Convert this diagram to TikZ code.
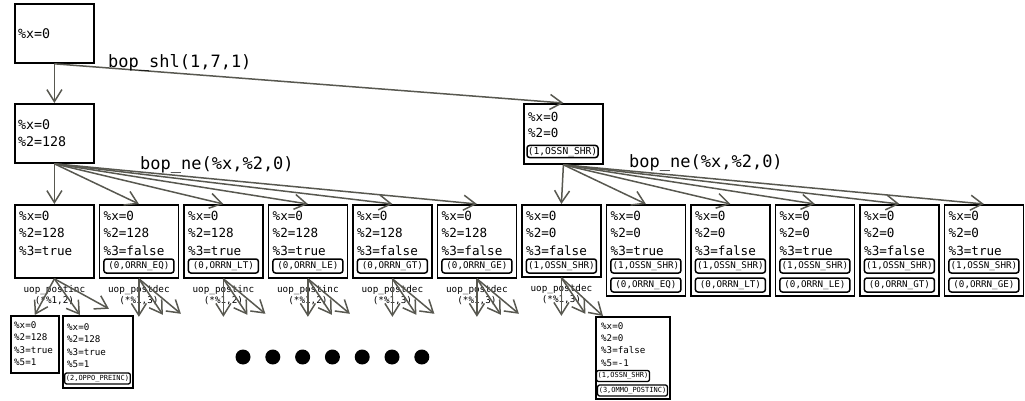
\documentclass[tikz,border=0pt]{standalone}
\usepackage{fontspec}
\setmonofont{DejaVu Sans Mono}
\usepackage{tikz}
\usetikzlibrary{arrows.meta,positioning,calc}
\definecolor{cinzaSeta}{RGB}{88,88,80}
\tikzset{
  estado/.style={rectangle, draw=black, line width=1.8pt, inner sep=0pt, anchor=north west},
  valores/.style={anchor=north west, inner sep=0pt, align=left,
                  font=\ttfamily\fontsize{12.6}{17.4}\selectfont},
  valorespeq/.style={anchor=north west, inner sep=0pt, align=left,
                     font=\ttfamily\fontsize{9.2}{12.4}\selectfont},
  rotulo/.style={rectangle, draw=black, line width=1.5pt, rounded corners=2.5pt,
                 inner sep=0pt, minimum width=70pt, minimum height=14pt,
                 font=\ttfamily\fontsize{9.2}{10}\selectfont},
  rotulopeq/.style={rectangle, draw=black, line width=1.3pt, rounded corners=2pt,
                    inner xsep=1.2pt, inner ysep=0pt, minimum height=11pt,
                    font=\ttfamily\fontsize{7}{8}\selectfont},
  seta/.style={-{Straight Barb[length=12pt,width=15pt]}, line width=1.5pt, cinzaSeta},
  operacao/.style={anchor=west, inner sep=0pt, font=\ttfamily\fontsize{17}{20}\selectfont},
  unaria/.style={inner sep=0pt, align=center, font=\ttfamily\fontsize{9.3}{11}\selectfont},
}

\begin{document}
\begin{tikzpicture}[x=1pt, y=-1pt]
  \useasboundingbox (0,0) rectangle (1025,401);
  % raiz e primeiro nivel
  \node[estado, minimum width=79pt, minimum height=59pt] (raiz) at (14,3) {};
  \node[valores, anchor=west, font=\ttfamily\fontsize{13.3}{16.7}\selectfont] (raizv) at (18,34) {\%x=0};
  \node[estado, minimum width=79pt, minimum height=59pt] (esq) at (14,103) {};
  \node[valores, anchor=west, font=\ttfamily\fontsize{13.3}{16.7}\selectfont] (esqv) at (18,133.5) {\%x=0\\\%2=128};
  \node[estado, minimum width=79pt, minimum height=60pt] (dir) at (523,103) {};
  \node[valores, font=\ttfamily\fontsize{12.5}{16}\selectfont] (dirv) at (528,112.5) {\%x=0\\\%2=0};
  \node[rotulo, minimum width=71pt, minimum height=12pt, font=\ttfamily\fontsize{9.6}{10}\selectfont] (dirt) at (562.5,151.5) {(1,OSSN\_SHR)};
  \draw[seta] (raiz.south) -- (esq.north);
  \draw[seta] (raiz.south) -- (dir.north);
  \node[operacao] (shl) at (108,63.5) {bop\_shl(1,7,1)};

  % segundo nivel, lado esquerdo
  \node[estado, minimum width=79pt, minimum height=73pt] (b1) at (14,204) {};
  \node[valores] (v1) at ($(b1.north west)+(5,7)$) {\%x=0\\\%2=128\\\%3=true};
  \draw[seta] (esq.south) -- (b1.north);
  \foreach \i/\val/\cmp in {2/false/EQ, 3/true/LT, 4/true/LE, 5/false/GT, 6/false/GE}{
    \pgfmathsetmacro\xb{14+84.5*(\i-1)}
    \node[estado, minimum width=79pt, minimum height=73pt] (b\i) at (\xb,204) {};
    \node[valores] (v\i) at ($(b\i.north west)+(5,7)$) {\%x=0\\\%2=128\\\%3=\val};
    \node[rotulo] (t\i) at ($(b\i.north)+(0,62)$) {(0,ORRN\_\cmp)};
    \draw[seta] (esq.south) -- (b\i.north);
  }

  % segundo nivel, lado direito
  \node[estado, minimum width=79pt, minimum height=72pt] (b7) at (521,204) {};
  \node[valores] (v7) at ($(b7.north west)+(5,7)$) {\%x=0\\\%2=0\\\%3=false};
  \node[rotulo] (t7) at ($(b7.north)+(0,62)$) {(1,OSSN\_SHR)};
  \draw[seta] (dir.south) -- (b7.north);
  \foreach \i/\val/\cmp in {8/true/EQ, 9/false/LT, 10/true/LE, 11/false/GT, 12/true/GE}{
    \pgfmathsetmacro\xb{14+84.5*(\i-1)}
    \node[estado, minimum width=79pt, minimum height=91pt] (b\i) at (\xb,204) {};
    \node[valores] (v\i) at ($(b\i.north west)+(5,7)$) {\%x=0\\\%2=0\\\%3=\val};
    \node[rotulo] (s\i) at ($(b\i.north)+(0,62)$) {(1,OSSN\_SHR)};
    \node[rotulo] (t\i) at ($(b\i.north)+(0,81)$) {(0,ORRN\_\cmp)};
    \draw[seta] (dir.south) -- (b\i.north);
  }
  \node[operacao] (ne1) at (140,165) {bop\_ne(\%x,\%2,0)};
  \node[operacao] (ne2) at (629,163) {bop\_ne(\%x,\%2,0)};

  % operacoes unarias
  \foreach \i/\op/\k in {1/inc/2, 2/dec/3, 3/inc/2, 4/inc/2, 5/dec/3, 6/dec/3, 7/dec/3}{
    \node[unaria] (u\i) at ($(b\i.south)+(0,16.5)$) {uop\_post\op\\(*\%1,\k)};
  }

  % terceiro nivel
  \node[estado, line width=1.6pt, minimum width=48pt, minimum height=57pt] (c1) at (10,315) {};
  \node[valorespeq] (w1) at ($(c1.north west)+(4,6.5)$) {\%x=0\\\%2=128\\\%3=true\\\%5=1};
  \node[estado, line width=1.6pt, minimum width=70pt, minimum height=72pt] (c2) at (62,315) {};
  \node[valorespeq] (w2) at ($(c2.north west)+(5,8.5)$) {\%x=0\\\%2=128\\\%3=true\\\%5=1};
  \node[rotulopeq, minimum width=63pt] (r2) at (97.5,378.5) {(2,OPPO\_PREINC)};
  \node[estado, line width=1.6pt, minimum width=74pt, minimum height=82pt] (c3) at (595,316) {};
  \node[valorespeq, font=\ttfamily\fontsize{9.2}{12.2}\selectfont] (w3) at ($(c3.north west)+(6,6.5)$) {\%x=0\\\%2=0\\\%3=false\\\%5=-1};
  \node[rotulopeq] (r3a) at (623,376) {(1,OSSN\_SHR)};
  \node[rotulopeq] (r3b) at (632.5,390.5) {(3,OMMO\_POSTINC)};

  \coordinate (c2e) at ($(c2.north west)+(18,0)$);
  \coordinate (fc1) at ($(b1.south)+(54.5,30)$);
  \draw[seta] (b1.south) -- (c1.north);
  \draw[seta] (b1.south) -- (c2e);
  \draw[seta] (b1.south) -- (fc1);
  \foreach \i in {2,...,7}{
    \coordinate (fa\i) at ($(b\i.south)+(0,38)$);
    \coordinate (fb\i) at ($(b\i.south)+(24,36)$);
    \draw[seta] (b\i.south) -- (fa\i);
    \draw[seta] (b\i.south) -- (fb\i);
  }
  \foreach \i in {2,...,6}{
    \coordinate (fc\i) at ($(b\i.south)+(42,35)$);
    \draw[seta] (b\i.south) -- (fc\i);
  }
  \coordinate (c3e) at ($(c3.north west)+(8,0)$);
  \draw[seta] (b7.south) -- (c3e);

  % reticencias
  \foreach \k in {0,...,6}
    \fill (243+29.8*\k,357) circle (7.5pt);
\end{tikzpicture}
\end{document}
